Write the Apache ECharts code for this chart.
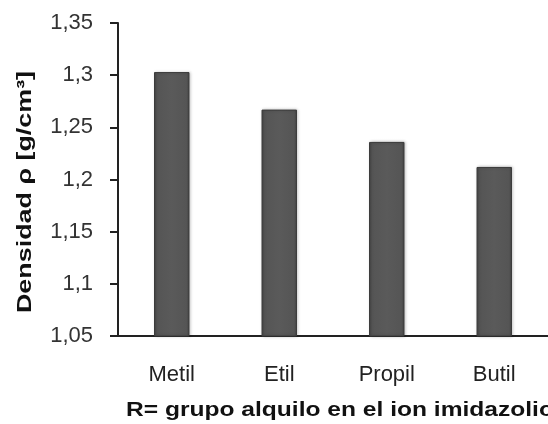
<!DOCTYPE html>
<html><head><meta charset="utf-8">
<script src="https://cdn.jsdelivr.net/npm/echarts@6/dist/echarts.min.js"></script>
<style>html,body{margin:0;padding:0;background:#fff}#c{width:548px;height:424px}</style>
</head><body><div id="c"></div>
<script>
const categories = ["Metil", "Etil", "Propil", "Butil"];
const densidad = [1.303, 1.267, 1.236, 1.212];
const yTicks = [1.05, 1.1, 1.15, 1.2, 1.25, 1.3, 1.35];
const xTitle = "R= grupo alquilo en el ion imidazolio";
const yTitle = "Densidad ρ [g/cm³]";

const chart = echarts.init(document.getElementById('c'), null, {renderer: 'canvas'});
chart.setOption({
  animation: false,
  backgroundColor: '#fff',
  grid: {left: 118, top: 23, width: 447, height: 313, containLabel: false},
  xAxis: {
    type: 'category', data: categories,
    axisLine: {lineStyle: {color: '#222', width: 2}},
    axisTick: {show: false},
    axisLabel: {color: '#222', fontSize: 22, fontFamily: 'Liberation Sans, Arial', margin: 28}
  },
  yAxis: {
    type: 'value', min: 1.05, max: 1.35, interval: 0.05,
    axisLine: {show: true, lineStyle: {color: '#222', width: 2}},
    axisTick: {show: true, length: 8, lineStyle: {color: '#222', width: 2}},
    splitLine: {show: false},
    axisLabel: {color: '#333', fontSize: 22, fontFamily: 'Liberation Sans, Arial', margin: 25,
      formatter: v => { const t = yTicks.find(x => Math.abs(x - v) < 1e-6); return String(+(t ?? v).toFixed(2)).replace('.', ','); }}
  },
  graphic: [
    {type: 'text', x: 126, y: 410, scaleX: 1.17,
      style: {text: xTitle, fill: '#111', font: 'bold 21px "Liberation Sans", Arial', verticalAlign: 'middle'}},
    {type: 'text', x: 25, y: 192, rotation: Math.PI / 2, scaleX: 1.28,
      style: {text: yTitle, fill: '#111', font: 'bold 21px "Liberation Sans", Arial', align: 'center', verticalAlign: 'middle'}}
  ],
  series: [{
    type: 'bar', data: densidad, barWidth: '33%',
    itemStyle: {
      color: new echarts.graphic.LinearGradient(0, 0, 1, 0, [
        {offset: 0, color: '#454545'}, {offset: 0.08, color: '#555'},
        {offset: 0.5, color: '#5a5a5a'}, {offset: 0.92, color: '#555'}, {offset: 1, color: '#454545'}
      ]),
      borderColor: '#3c3c3c', borderWidth: 1,
      shadowColor: 'rgba(0,0,0,0.25)', shadowBlur: 3, shadowOffsetX: 1
    }
  }]
});
</script></body></html>
